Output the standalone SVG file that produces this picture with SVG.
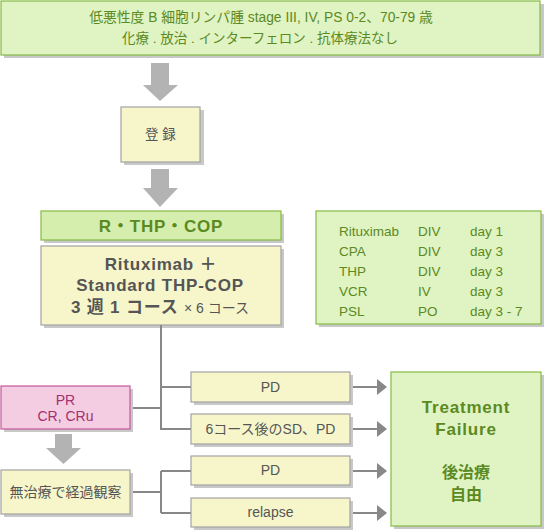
<svg xmlns="http://www.w3.org/2000/svg" width="544" height="531" viewBox="0 0 544 531">
<defs>
<style>
text{font-family:"Liberation Sans","Noto Sans CJK JP",sans-serif;text-anchor:middle}
.sh{fill:#c8c8c8}
.g{fill:#e0f3c3;stroke:#86bb45;stroke-width:1.2}
.g2{fill:#d6eead;stroke:#86bb45;stroke-width:1.2}
.y{fill:#f7f6cb;stroke:#a3a3a3;stroke-width:1.2}
.p{fill:#f5cde3;stroke:#c5589a;stroke-width:1.2}
.gt{fill:#5b8a22}
.tt{fill:#555}
.pt{fill:#a3306f}
.ln{fill:none;stroke:#888;stroke-width:2}
.ga{fill:#b3b3b3}
.big{font-size:17px;font-weight:bold;letter-spacing:0.8px}
.lt{text-anchor:start}
</style>
<marker id="ah" markerWidth="10" markerHeight="16" refX="9" refY="8" orient="auto" markerUnits="userSpaceOnUse">
<path d="M0,0 L10,8 L0,16 Z" fill="#888"/>
</marker>
</defs>

<g id="top">
<rect class="sh" x="4" y="4" width="540" height="54"/>
<rect class="g" x="1" y="1" width="539" height="54"/>
<text class="gt" x="261" y="22" font-size="13.8">低悪性度 B 細胞リンパ腫 stage III, IV, PS 0-2、70-79 歳</text>
<text class="gt" x="260" y="43" font-size="13.5">化療 . 放治 . インターフェロン . 抗体療法なし</text>
</g>

<g id="arrow1"><path class="ga" d="M151,63 H169 V85 H178 L160,101 L143,85 H151 Z"/></g>

<g id="toroku">
<rect class="sh" x="124" y="110" width="80" height="55"/>
<rect class="y" x="121" y="107" width="79" height="55"/>
<text class="tt" x="160.5" y="139" font-size="13.5">登  録</text>
</g>

<g id="arrow2"><path class="ga" d="M151,169 H169 V188 H178 L160,207 L143,188 H151 Z"/></g>

<g id="rthp">
<rect class="sh" x="44" y="214" width="240" height="29"/>
<rect class="g2" x="41" y="211" width="240" height="29"/>
<text class="gt big" x="161" y="232">R・THP・COP</text>
</g>

<g id="regimen">
<rect class="sh" x="44" y="249" width="240" height="79"/>
<rect class="y" x="41" y="246" width="240" height="79"/>
<text class="tt big" x="161" y="270">Rituximab ＋</text>
<text class="tt big" x="160" y="291">Standard THP-COP</text>
<text class="tt big" x="160" y="313">3 週 1 コース <tspan font-weight="normal" font-size="14" letter-spacing="0">× 6 コース</tspan></text>
</g>

<g id="drugs">
<rect class="sh" x="319" y="214" width="225" height="113"/>
<rect class="g" x="316" y="211" width="225" height="113"/>
<g class="gt" font-size="13.5">
<text class="lt" x="339" y="236">Rituximab</text>
<text class="lt" x="418" y="236">DIV</text>
<text class="lt" x="470" y="236">day 1</text>
<text class="lt" x="339" y="256">CPA</text>
<text class="lt" x="418" y="256">DIV</text>
<text class="lt" x="470" y="256">day 3</text>
<text class="lt" x="339" y="276">THP</text>
<text class="lt" x="418" y="276">DIV</text>
<text class="lt" x="470" y="276">day 3</text>
<text class="lt" x="339" y="296">VCR</text>
<text class="lt" x="418" y="296">IV</text>
<text class="lt" x="470" y="296">day 3</text>
<text class="lt" x="339" y="316">PSL</text>
<text class="lt" x="418" y="316">PO</text>
<text class="lt" x="470" y="316">day 3 - 7</text>
</g>
</g>

<g id="connectors">
<path class="ln" d="M161,325 V429 H191 M161,387 H191 M130,408 H161"/>
<path class="ln" d="M130,492 H161 M161,471 V513 M161,471 H191 M161,513 H191"/>
<path class="ln" marker-end="url(#ah)" d="M350,387 H386"/>
<path class="ln" marker-end="url(#ah)" d="M350,429 H386"/>
<path class="ln" marker-end="url(#ah)" d="M350,471 H386"/>
<path class="ln" marker-end="url(#ah)" d="M350,513 H386"/>
</g>

<g id="pd1">
<rect class="sh" x="194" y="375" width="159" height="30"/>
<rect class="y" x="191" y="372" width="159" height="30"/>
<text class="tt" x="270.5" y="392" font-size="14">PD</text>
</g>
<g id="sdpd">
<rect class="sh" x="194" y="417" width="159" height="30"/>
<rect class="y" x="191" y="414" width="159" height="30"/>
<text class="tt" x="270.5" y="434" font-size="14">6コース後のSD、PD</text>
</g>

<g id="pr">
<rect class="sh" x="4" y="389" width="129" height="43"/>
<rect class="p" x="1" y="386" width="129" height="43"/>
<text class="pt" x="65.5" y="405" font-size="14">PR</text>
<text class="pt" x="65.5" y="421" font-size="14">CR, CRu</text>
</g>

<g id="arrow3"><path class="ga" d="M55,434 H72 V448 H81 L63.5,464 L46,448 H55 Z"/></g>

<g id="watch">
<rect class="sh" x="4" y="473" width="129" height="44"/>
<rect class="y" x="1" y="470" width="129" height="44"/>
<text class="tt" x="65.5" y="497" font-size="14">無治療で経過観察</text>
</g>

<g id="pd2">
<rect class="sh" x="194" y="459" width="159" height="29"/>
<rect class="y" x="191" y="456" width="159" height="29"/>
<text class="tt" x="270.5" y="475" font-size="14">PD</text>
</g>
<g id="relapse">
<rect class="sh" x="194" y="501" width="159" height="29"/>
<rect class="y" x="191" y="498" width="159" height="29"/>
<text class="tt" x="270.5" y="517" font-size="14">relapse</text>
</g>

<g id="failure">
<rect class="sh" x="394" y="375" width="150" height="154"/>
<rect class="g" x="391" y="372" width="150" height="154"/>
<text class="gt big" x="466" y="413">Treatment</text>
<text class="gt big" x="466" y="435">Failure</text>
<text class="gt" x="466" y="478" font-size="16" font-weight="bold">後治療</text>
<text class="gt" x="466" y="500" font-size="16" font-weight="bold">自由</text>
</g>
</svg>
